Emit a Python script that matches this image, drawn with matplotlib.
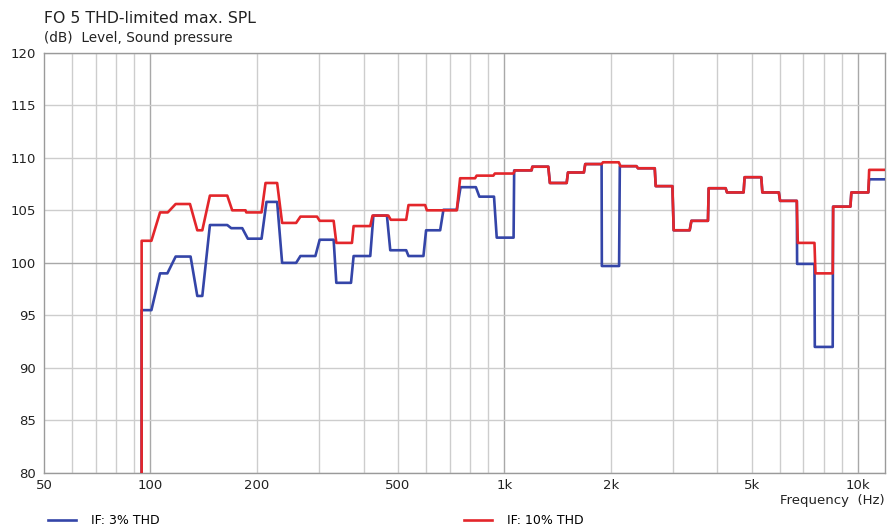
import matplotlib
matplotlib.use("Agg")
import matplotlib.pyplot as plt
from matplotlib.ticker import FixedLocator, NullFormatter

# frequencies (Hz) and levels (dB) of the corners of each curve
freq_3 = [94.4, 94.4, 100.6, 106.4, 111.6, 117.8, 129.8, 135.6, 140.1, 147.2,
          164.8, 169.1, 181.7, 188.4, 206, 212.7, 228, 235.5, 258, 265.3,
          292.4, 300.7, 329.3, 335.1, 368.7, 375, 417.9, 426.5, 465.8, 476,
          528, 536, 590.7, 601, 658.6, 672.8, 734, 752, 831, 850,
          935, 951.7, 1062, 1066, 1194, 1200, 1331, 1345, 1500, 1513,
          1678, 1693, 1883, 1886, 2110, 2120, 2362, 2386, 2661, 2678,
          2985, 3010, 3340, 3378, 3762, 3780, 4221, 4258, 4744, 4775,
          5322, 5360, 5966, 6014, 6707, 6720, 7524, 7540, 8472, 8490,
          9506, 9565, 10681, 10740, 12000]
spl_3 = [79, 95.5, 95.5, 99.0, 99.0, 100.6, 100.6, 96.85, 96.85, 103.6,
         103.6, 103.3, 103.3, 102.3, 102.3, 105.8, 105.8, 100.0, 100.0, 100.65,
         100.65, 102.2, 102.2, 98.1, 98.1, 100.65, 100.65, 104.5, 104.5, 101.2,
         101.2, 100.65, 100.65, 103.1, 103.1, 105.05, 105.05, 107.2, 107.2, 106.3,
         106.3, 102.4, 102.4, 108.8, 108.8, 109.15, 109.15, 107.6, 107.6, 108.6,
         108.6, 109.4, 109.4, 99.7, 99.7, 109.2, 109.2, 109.0, 109.0, 107.3,
         107.3, 103.1, 103.1, 104.0, 104.0, 107.1, 107.1, 106.7, 106.7, 108.15,
         108.15, 106.7, 106.7, 105.9, 105.9, 99.9, 99.9, 92.0, 92.0, 105.35,
         105.35, 106.7, 106.7, 107.95, 107.95]

freq_10 = [94.4, 94.4, 100.6, 106.4, 111.9, 117.8, 129.3, 135.6, 140.1, 147.2,
           164.8, 170.2, 185.6, 186.5, 206, 211.4, 228, 235.5, 258, 265.3,
           295.6, 300.7, 329.3, 335.1, 371, 375, 417.9, 424.2, 470, 477.6,
           528, 536, 597.3, 604, 734, 750, 826.6, 835, 931, 940,
           1060, 1072, 1194, 1200, 1331, 1345, 1500, 1513, 1678, 1693,
           1883, 1900, 2106, 2129, 2362, 2386, 2661, 2678, 2985, 3010,
           3340, 3378, 3762, 3780, 4221, 4258, 4744, 4775, 5322, 5360,
           5966, 6014, 6707, 6750, 7524, 7572, 8472, 8500, 9506, 9565,
           10681, 10740, 12000]
spl_10 = [79, 102.1, 102.1, 104.8, 104.8, 105.6, 105.6, 103.1, 103.1, 106.4,
          106.4, 105.0, 105.0, 104.8, 104.8, 107.6, 107.6, 103.8, 103.8, 104.4,
          104.4, 104.0, 104.0, 101.9, 101.9, 103.5, 103.5, 104.5, 104.5, 104.1,
          104.1, 105.5, 105.5, 105.0, 105.0, 108.05, 108.05, 108.3, 108.3, 108.5,
          108.5, 108.8, 108.8, 109.15, 109.15, 107.6, 107.6, 108.6, 108.6, 109.4,
          109.4, 109.57, 109.57, 109.2, 109.2, 109.0, 109.0, 107.3, 107.3, 103.1,
          103.1, 104.0, 104.0, 107.1, 107.1, 106.7, 106.7, 108.15, 108.15, 106.7,
          106.7, 105.9, 105.9, 101.9, 101.9, 99.0, 99.0, 105.35, 105.35, 106.7,
          106.7, 108.85, 108.85]

x_ticks = [50, 100, 200, 500, 1000, 2000, 5000, 10000]
x_labels = ["50", "100", "200", "500", "1k", "2k", "5k", "10k"]
x_minor = [60, 70, 80, 90, 200, 300, 400, 500, 600, 700, 800, 900,
           2000, 3000, 4000, 5000, 6000, 7000, 8000, 9000]
x_major = [100, 1000, 10000]
y_ticks = [80, 85, 90, 95, 100, 105, 110, 115, 120]

BLUE = "#3445a8"
RED = "#e3262b"
GRID = "#cdcdcd"
GRID_DARK = "#a8a8a8"

plt.rcParams['font.family'] = ['DejaVu Sans']

fig = plt.figure(figsize=(8.9, 5.3), dpi=100)
ax = fig.add_axes([0.0494, 0.1075, 0.9449, 0.7931])

ax.set_xscale('log')
ax.set_xlim(50, 11900)
ax.set_ylim(80, 120)

# grid
for f in x_minor:
    ax.axvline(f, color=GRID, lw=1.0, zorder=0)
for f in x_major:
    ax.axvline(f, color=GRID_DARK, lw=1.0, zorder=0)
for v in y_ticks:
    ax.axhline(v, color=GRID_DARK if v == 100 else GRID, lw=1.0, zorder=0)

l3, = ax.plot(freq_3, spl_3, color=BLUE, lw=1.9, zorder=3, label="IF: 3% THD")
l10, = ax.plot(freq_10, spl_10, color=RED, lw=1.9, zorder=4, label="IF: 10% THD")

ax.xaxis.set_major_locator(FixedLocator(x_ticks))
ax.set_xticklabels(x_labels)
ax.xaxis.set_minor_formatter(NullFormatter())
ax.xaxis.set_minor_locator(FixedLocator([]))
ax.set_yticks(y_ticks)
ax.tick_params(axis='both', length=0, labelsize=9.5, colors='#222222')
ax.tick_params(axis='x', pad=4)
ax.tick_params(axis='y', pad=6)

for s in ax.spines.values():
    s.set_color('#9a9a9a')
    s.set_linewidth(1.0)

fig.text(0.0494, 0.966, "FO 5 THD-limited max. SPL", fontsize=11.3,
         color='#222222', va='center', ha='left')
fig.text(0.0494, 0.928, "(dB)  Level, Sound pressure", fontsize=9.8,
         color='#222222', va='center', ha='left')
fig.text(0.994, 0.056, "Frequency  (Hz)", fontsize=9.5, color='#222222',
         va='center', ha='right')

fig.legend(handles=[l3, l10], loc='center left', bbox_to_anchor=(0.054, 0.017),
           ncol=2, frameon=False, fontsize=9, handlelength=2.2,
           handletextpad=1.2, columnspacing=24.4, borderpad=0, borderaxespad=0)

fig.savefig("out.png", dpi=100)
